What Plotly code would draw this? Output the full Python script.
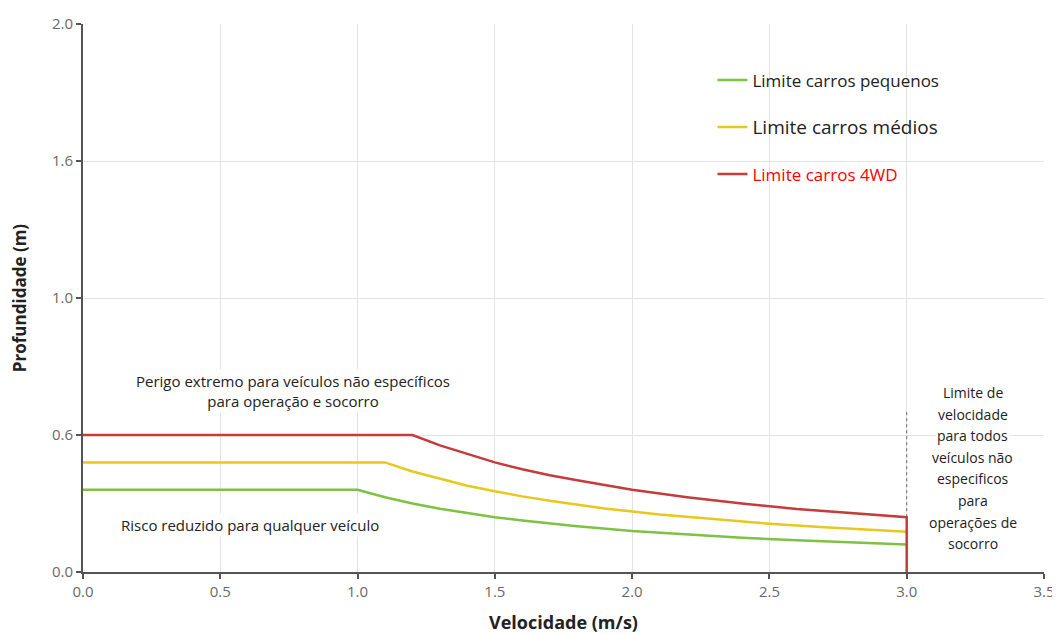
import plotly.graph_objects as go

# velocidade (m/s) e profundidade (posição no eixo)
v_pequenos = [0.0, 1.0, 1.1, 1.2, 1.3, 1.4, 1.5, 1.6, 1.8, 2.0, 2.2, 2.4, 2.6, 2.8, 3.0]
d_pequenos = [0.30, 0.30, 0.273, 0.25, 0.231, 0.215, 0.20, 0.188, 0.167, 0.15, 0.137, 0.125, 0.116, 0.107, 0.10]

v_medios = [0.0, 1.1, 1.2, 1.3, 1.4, 1.5, 1.6, 1.7, 1.9, 2.1, 2.3, 2.5, 2.7, 2.9, 3.0]
d_medios = [0.40, 0.40, 0.367, 0.34, 0.315, 0.295, 0.276, 0.26, 0.232, 0.21, 0.192, 0.176, 0.163, 0.152, 0.147]

v_4wd = [0.0, 1.2, 1.3, 1.4, 1.5, 1.6, 1.7, 1.8, 2.0, 2.2, 2.4, 2.6, 2.8, 3.0, 3.0]
d_4wd = [0.50, 0.50, 0.462, 0.43, 0.40, 0.375, 0.353, 0.335, 0.30, 0.273, 0.25, 0.23, 0.215, 0.20, 0.0]

# limite de velocidade (linha tracejada)
v_limite = [3.0, 3.0]
d_limite = [0.20, 0.59]

y_tickvals = [0.0, 0.5, 1.0, 1.5, 2.0]
y_ticktext = ['0.0', '0.6', '1.0', '1.6', '2.0']
x_tickvals = [0.0, 0.5, 1.0, 1.5, 2.0, 2.5, 3.0, 3.5]

texto_direita = ['Limite de', 'velocidade', 'para todos', 'veículos não',
                 'especificos', 'para', 'operações de', 'socorro']

FONT = 'Open Sans'

fig = go.Figure()

fig.add_trace(go.Scatter(x=v_pequenos, y=d_pequenos, mode='lines',
                         line=dict(color='#7DC242', width=2.5),
                         name='Limite carros pequenos', legendgroup='a'))
fig.add_trace(go.Scatter(x=v_medios, y=d_medios, mode='lines',
                         line=dict(color='#E8C81E', width=2.5),
                         name="<span style='font-size:19px'>Limite carros médios</span>", legendgroup='b'))
fig.add_trace(go.Scatter(x=v_4wd, y=d_4wd, mode='lines',
                         line=dict(color='#C63B3B', width=2.5),
                         name="<span style='color:#FF0000'>Limite carros 4WD</span>",
                         legendgroup='c'))
fig.add_trace(go.Scatter(x=v_limite, y=d_limite, mode='lines',
                         line=dict(color='#666666', width=1, dash='dot'),
                         showlegend=False))

# caixa branca da legenda
fig.add_shape(type='rect', xref='paper', yref='paper',
              x0=0.645, x1=0.985, y0=0.628, y1=0.974,
              fillcolor='white', line=dict(width=0), layer='between')

fig.add_annotation(x=0.765, y=0.66, text='Perigo extremo para veículos não específicos<br>para operação e socorro',
                   showarrow=False, font=dict(size=15, color='#222'), bgcolor='white')
fig.add_annotation(x=0.608, y=0.17, text='Risco reduzido para qualquer veículo',
                   showarrow=False, font=dict(size=15, color='#222'), bgcolor='white')
for i, linha in enumerate(texto_direita):
    fig.add_annotation(x=3.24, y=0.655 - i * 0.0788, text=linha, showarrow=False,
                       font=dict(size=14, color='#222'), bgcolor='white')

# a página tem 8px de margem no body
fig.update_layout(
    width=1052, height=626,
    margin=dict(l=75, r=16, t=16, b=62),
    plot_bgcolor='white', paper_bgcolor='white',
    font=dict(family=FONT),
    legend=dict(x=0.655, y=0.93, xanchor='left', yanchor='top',
                bgcolor='rgba(0,0,0,0)', font=dict(size=17, color='#222'),
                tracegroupgap=22, itemwidth=30),
    xaxis=dict(range=[0, 3.5], tickvals=x_tickvals, tickformat='.1f',
               showgrid=True, gridcolor='#e3e3e3', gridwidth=1,
               showline=True, linecolor='#555', linewidth=2,
               ticks='outside', ticklen=5, tickcolor='#555', tickwidth=2,
               tickfont=dict(size=15, color='#6a6a6a'), zeroline=False, automargin=False,
               title=dict(text='<b>Velocidade (m/s)</b>', font=dict(size=18, color='#222'), standoff=20)),
    yaxis=dict(range=[0, 2.0], tickvals=y_tickvals, ticktext=y_ticktext,
               showgrid=True, gridcolor='#e3e3e3', gridwidth=1,
               showline=True, linecolor='#555', linewidth=2,
               ticks='outside', ticklen=5, tickcolor='#555', tickwidth=2,
               tickfont=dict(size=15, color='#6a6a6a'), zeroline=False, automargin=False,
               title=dict(text='<b>Profundidade (m)</b>', font=dict(size=17, color='#222'), standoff=32)),
)

fig.write_html('out.html')
